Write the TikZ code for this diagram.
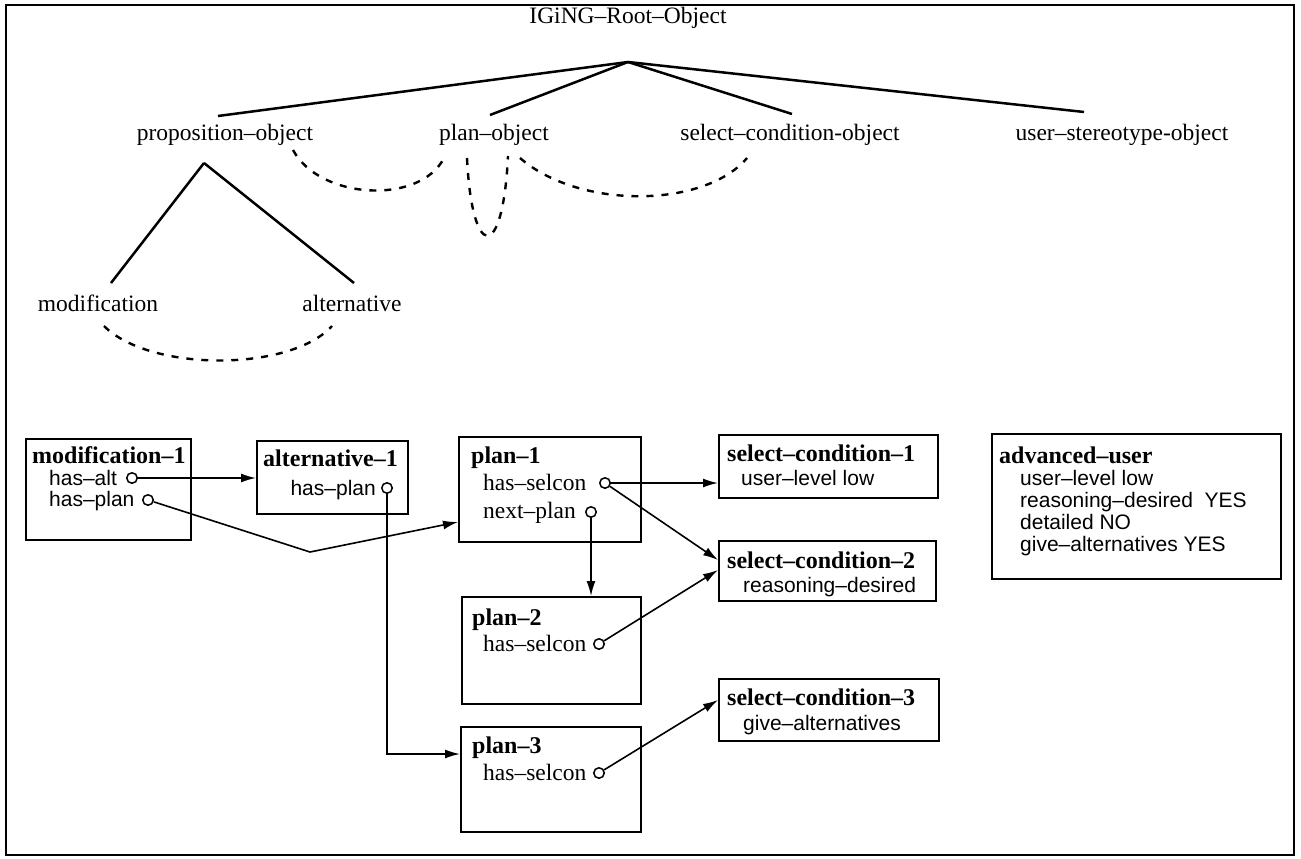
\documentclass[tikz,border=0pt]{standalone}
\usepackage{fontspec}
\setmainfont{Liberation Serif}
\newfontfamily\helv{Liberation Sans}
\usetikzlibrary{arrows.meta,calc}

\newcommand\treefont{\fontsize{23.5}{27}\selectfont}
\newcommand\titlefont{\fontsize{24}{28}\selectfont\bfseries}
\newcommand\sansattr{\helv\fontsize{21}{24}\selectfont}
\newcommand\serifattr{\fontsize{23.5}{27}\selectfont}

\begin{document}
\begin{tikzpicture}[x=1pt,y=-1pt,
  box/.style={draw, line width=1.9pt, anchor=north west, inner sep=0pt},
  ttl/.style={anchor=base west, inner sep=0pt, font=\titlefont},
  sattr/.style={anchor=base west, inner sep=0pt, font=\sansattr},
  rattr/.style={anchor=base west, inner sep=0pt, font=\serifattr},
  slot/.style={circle, draw, line width=1.5pt, minimum size=10.5pt, inner sep=0pt},
  link/.style={line width=1.6pt, -{Latex[length=15pt,width=9pt]}},
  tree/.style={line width=2.5pt},
  arcd/.style={line width=2.4pt, dash pattern=on 7pt off 8pt},
  lbl/.style={font=\treefont, inner sep=0pt}]

\useasboundingbox (0,0) rectangle (1301,859);
\draw[line width=2.4pt] (6,5) rectangle (1294,855);

% ---- class hierarchy ----
\node[lbl] (root) at (628,18) {IGiNG–Root–Object};
\coordinate (apex) at (628,62);
\node[lbl] (prop) at (225,135) {proposition–object};
\node[lbl] (plan) at (494,135) {plan–object};
\node[lbl] (sel)  at (790,135) {select–condition-object};
\node[lbl] (user) at (1122,135) {user–stereotype-object};
\coordinate (tP) at (218,116);
\coordinate (tL) at (490,115);
\coordinate (tS) at (792,114);
\coordinate (tU) at (1084,112);
\draw[tree] (apex) -- (tP);
\draw[tree] (apex) -- (tL);
\draw[tree] (apex) -- (tS);
\draw[tree] (apex) -- (tU);

\coordinate (papex) at (204,163);
\coordinate (tM) at (111,283);
\coordinate (tA) at (354,283);
\draw[tree] (papex) -- (tM);
\draw[tree] (papex) -- (tA);
\node[lbl] (modc) at (98,303) {modification};
\node[lbl] (altc) at (352,303) {alternative};

% dashed relation arcs
\coordinate (d1a) at (293,150);
\coordinate (d1b) at (444,158);
\draw[arcd] (d1a) .. controls (320,200) and (420,205) .. (d1b);
\coordinate (d2a) at (467,158);
\coordinate (d2b) at (508,156);
\draw[arcd] (d2a) .. controls (472,262) and (503,262) .. (d2b);
\coordinate (d3a) at (520,158);
\coordinate (d3b) at (747,158);
\draw[arcd] (d3a) .. controls (580,210) and (705,208) .. (d3b);
\coordinate (d4a) at (104,326);
\coordinate (d4b) at (332,326);
\draw[arcd] (d4a) .. controls (150,372) and (290,372) .. (d4b);

% ---- instance frames ----
\node[box, minimum width=165pt, minimum height=101pt] (mod) at (25,438) {};
\node[ttl] (modt) at (32,463) {modification–1};
\node[sattr] (moda) at (49,485) {has–alt};
\node[slot] (sAlt) at (132,478) {};
\node[sattr] (modp) at (49,506) {has–plan};
\node[slot] (sPlan) at (148,500) {};

\node[box, minimum width=151pt, minimum height=73pt] (alt) at (256,440) {};
\node[ttl] (altt) at (263,466) {alternative–1};
\node[sattr, anchor=base east] (altp) at (376,495) {has–plan};
\node[slot] (sAltPlan) at (387,488) {};

\node[box, minimum width=182pt, minimum height=105pt] (p1) at (458,436) {};
\node[ttl] (p1t) at (471,463) {plan–1};
\node[rattr] (p1a) at (483,490) {has–selcon};
\node[slot] (sP1) at (605,483) {};
\node[rattr] (p1b) at (483,518) {next–plan};
\node[slot] (sNext) at (591,512) {};

\node[box, minimum width=219pt, minimum height=63pt] (sc1) at (718,434) {};
\node[ttl] (sc1t) at (727,461) {select–condition–1};
\node[sattr] (sc1a) at (741,485) {user–level low};

\node[box, minimum width=217pt, minimum height=60pt] (sc2) at (718,540) {};
\node[ttl] (sc2t) at (727,568) {select–condition–2};
\node[sattr] (sc2a) at (743,592) {reasoning–desired};

\node[box, minimum width=179pt, minimum height=107pt] (p2) at (461,596) {};
\node[ttl] (p2t) at (472,625) {plan–2};
\node[rattr] (p2a) at (483,651) {has–selcon};
\node[slot] (sP2) at (599,644) {};

\node[box, minimum width=220pt, minimum height=62pt] (sc3) at (718,678) {};
\node[ttl] (sc3t) at (727,705) {select–condition–3};
\node[sattr] (sc3a) at (743,730) {give–alternatives};

\node[box, minimum width=180pt, minimum height=105pt] (p3) at (460,726) {};
\node[ttl] (p3t) at (472,753) {plan–3};
\node[rattr] (p3a) at (483,780) {has–selcon};
\node[slot] (sP3) at (599,773) {};

\node[box, minimum width=289pt, minimum height=145pt] (adv) at (991,433) {};
\node[ttl] (advt) at (999,463) {advanced–user};
\node[sattr] (adv1) at (1020,485) {user–level low};
\node[sattr] (adv2) at (1020,507) {reasoning–desired\ \ YES};
\node[sattr] (adv3) at (1020,529) {detailed NO};
\node[sattr] (adv4) at (1020,551) {give–alternatives YES};

% ---- slot links ----
\draw[link] (sAlt) -- (sAlt -| alt.west);
\coordinate (kink) at (310,552);
\draw[link] (sPlan) -- (kink) -- ($(p1.north west)+(0,86)$);
\coordinate (drop) at (387,754);
\draw[link] (sAltPlan) -- (drop) -- (drop -| p3.west);
\draw[link] (sP1) -- (sP1 -| sc1.west);
\draw[link] (sP1) -- ($(sc2.north west)+(0,20)$);
\draw[link] (sNext) -- (sNext |- p2.north);
\draw[link] (sP2) -- ($(sc2.north west)+(0,30)$);
\draw[link] (sP3) -- ($(sc3.north west)+(0,22)$);
\end{tikzpicture}
\end{document}
